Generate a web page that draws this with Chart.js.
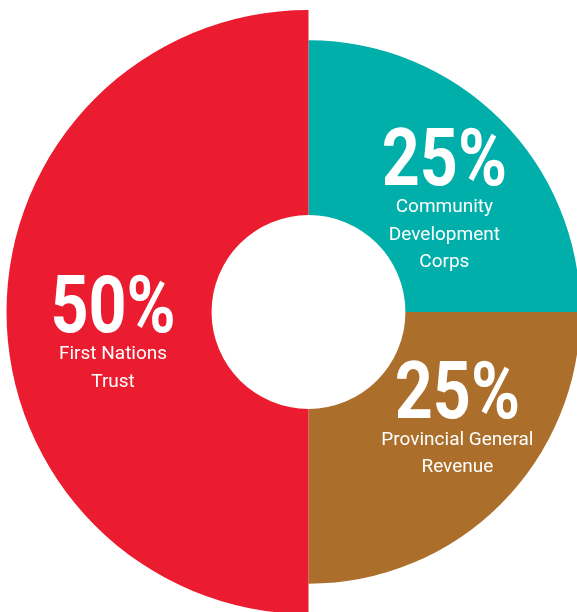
<!DOCTYPE html>
<html>
<head>
<meta charset="utf-8">
<script src="https://cdn.jsdelivr.net/npm/chart.js@4.4.1/dist/chart.umd.min.js"></script>
<style>
  html, body { margin: 0; padding: 0; background: #ffffff; }
  body { width: 577px; height: 612px; overflow: hidden; position: relative; }
  #fundChart { position: absolute; left: 0; top: 0; }
</style>
</head>
<body>
<canvas id="fundChart" width="617" height="624"></canvas>
<script>
// Revenue split
const categories = ['Community Development Corps', 'Provincial General Revenue', 'First Nations Trust'];
const shares = [25, 25, 50];
const labelLines = [
    ['Community', 'Development', 'Corps'],
    ['Provincial General', 'Revenue'],
    ['First Nations', 'Trust']
];

const sliceColors = ['#00AFAA', '#AB6F2B', '#EB1C2F'];
const ringScale = [0.9, 0.9, 1];          // outer radius of each slice vs. the biggest one
const labelNudge = [[5.5, 3.5], [18.5, -24.5], [4, 20]]; // px from the arc centre point

// Shrink the smaller slices after layout
const ringSizes = {
    id: 'ringSizes',
    beforeDatasetsDraw(chart) {
        const meta = chart.getDatasetMeta(0);
        const outer = meta.controller.outerRadius;
        meta.data.forEach((arc, i) => {
            arc.outerRadius = outer * ringScale[i];
        });
    }
};

// Percentages and names written inside the slices
const sliceLabels = {
    id: 'sliceLabels',
    afterDatasetsDraw(chart) {
        const ctx = chart.ctx;
        const meta = chart.getDatasetMeta(0);
        meta.data.forEach((arc, i) => {
            const c = arc.getCenterPoint();
            const x = c.x + labelNudge[i][0];
            const y = c.y + labelNudge[i][1];
            ctx.save();
            ctx.fillStyle = '#ffffff';
            ctx.textAlign = 'center';
            ctx.textBaseline = 'alphabetic';

            ctx.save();
            ctx.translate(x, y);
            ctx.scale(0.83, 1);
            ctx.font = '700 80px Roboto';
            ctx.fillText(shares[i] + '%', 0, 0);
            ctx.restore();

            ctx.font = '400 19px Roboto';
            labelLines[i].forEach((line, k) => {
                ctx.fillText(line, x, y + 27 + k * 27.5);
            });
            ctx.restore();
        });
    }
};

const chart = new Chart(document.getElementById('fundChart'), {
    type: 'doughnut',
    data: {
        labels: categories,
        datasets: [{
            data: shares,
            backgroundColor: sliceColors,
            borderWidth: 0,
            hoverOffset: 0
        }]
    },
    options: {
        responsive: false,
        animation: false,
        radius: 302,
        cutout: '32.1%',
        layout: { padding: 0 },
        plugins: {
            legend: { display: false },
            tooltip: { enabled: false }
        }
    },
    plugins: [ringSizes, sliceLabels]
});
</script>
</body>
</html>
